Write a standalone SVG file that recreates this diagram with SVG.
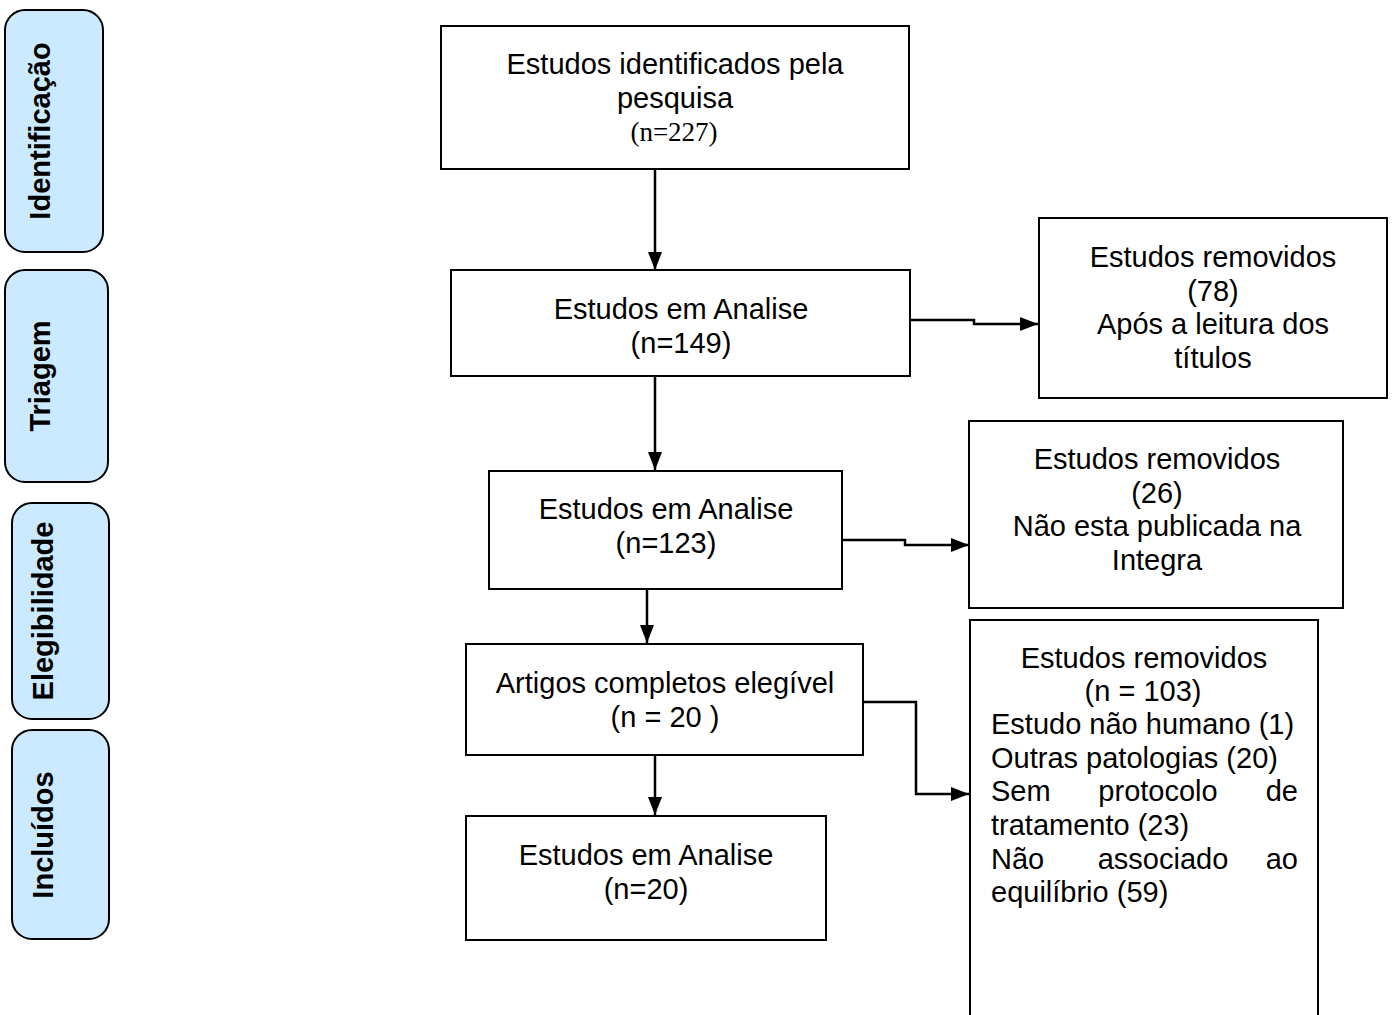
<svg xmlns="http://www.w3.org/2000/svg" width="1395" height="1015" viewBox="0 0 1395 1015">
<style>
.lbl{fill:#cceaff;stroke:#000;stroke-width:2}
.lt{font-family:"Liberation Sans",Arial,sans-serif;font-weight:bold;font-size:29px;fill:#000}
.box{fill:#fff;stroke:#000;stroke-width:2}
.t{font-family:"Liberation Sans",Arial,sans-serif;font-size:29px;fill:#000}
.tc{text-anchor:middle}
.tr{text-anchor:end}
.ts{font-family:"Liberation Serif","Times New Roman",serif;font-size:27px;fill:#000;text-anchor:middle}
.c{fill:none;stroke:#000;stroke-width:2.5}
</style>
<defs>
<marker id="ah" markerWidth="18" markerHeight="14" refX="18" refY="7" orient="auto" markerUnits="userSpaceOnUse">
<path d="M0,0 L18,7 L0,14 Z" fill="#000"/>
</marker>
</defs>
<g id="lbl-identificacao">
<rect class="lbl" x="5" y="10" width="98" height="242" rx="20"/>
<text class="lt tc" transform="translate(50,131) rotate(-90)">Identificação</text>
</g>
<g id="lbl-triagem">
<rect class="lbl" x="5" y="270" width="103" height="212" rx="20"/>
<text class="lt tc" transform="translate(50,376) rotate(-90)">Triagem</text>
</g>
<g id="lbl-elegibilidade">
<rect class="lbl" x="12" y="503" width="97" height="216" rx="20"/>
<text class="lt tc" transform="translate(53,611) rotate(-90)">Elegibilidade</text>
</g>
<g id="lbl-incluidos">
<rect class="lbl" x="12" y="730" width="97" height="209" rx="20"/>
<text class="lt tc" transform="translate(53,835) rotate(-90)">Incluídos</text>
</g>
<g id="n-identificados">
<rect class="box" x="441" y="26" width="468" height="143"/>
<text class="t tc" x="675" y="74">Estudos identificados pela</text>
<text class="t tc" x="675" y="108">pesquisa</text>
<text class="ts" x="674" y="141">(n=227)</text>
</g>
<g id="n-analise149">
<rect class="box" x="451" y="270" width="459" height="106"/>
<text class="t tc" x="681" y="319">Estudos em Analise</text>
<text class="t tc" x="681" y="353">(n=149)</text>
</g>
<g id="n-removidos78">
<rect class="box" x="1039" y="218" width="348" height="180"/>
<text class="t tc" x="1213" y="267">Estudos removidos</text>
<text class="t tc" x="1213" y="301">(78)</text>
<text class="t tc" x="1213" y="334">Após a leitura dos</text>
<text class="t tc" x="1213" y="368">títulos</text>
</g>
<g id="n-analise123">
<rect class="box" x="489" y="471" width="353" height="118"/>
<text class="t tc" x="666" y="519">Estudos em Analise</text>
<text class="t tc" x="666" y="553">(n=123)</text>
</g>
<g id="n-removidos26">
<rect class="box" x="969" y="421" width="374" height="187"/>
<text class="t tc" x="1157" y="469">Estudos removidos</text>
<text class="t tc" x="1157" y="503">(26)</text>
<text class="t tc" x="1157" y="536">Não esta publicada na</text>
<text class="t tc" x="1157" y="570">Integra</text>
</g>
<g id="n-elegivel">
<rect class="box" x="466" y="644" width="397" height="111"/>
<text class="t tc" x="665" y="693">Artigos completos elegível</text>
<text class="t tc" x="665" y="727">(n = 20 )</text>
</g>
<g id="n-analise20">
<rect class="box" x="466" y="816" width="360" height="124"/>
<text class="t tc" x="646" y="865">Estudos em Analise</text>
<text class="t tc" x="646" y="899">(n=20)</text>
</g>
<g id="n-removidos103">
<rect class="box" x="970" y="620" width="348" height="400"/>
<text class="t tc" x="1144" y="668">Estudos removidos</text>
<text class="t tc" x="1143" y="701">(n = 103)</text>
<text class="t" x="991" y="734">Estudo não humano (1)</text>
<text class="t" x="991" y="768">Outras patologias (20)</text>
<text class="t" x="991" y="801">Sem</text>
<text class="t tc" x="1158" y="801">protocolo</text>
<text class="t tr" x="1298" y="801">de</text>
<text class="t" x="991" y="835">tratamento (23)</text>
<text class="t" x="991" y="869">Não</text>
<text class="t tc" x="1163" y="869">associado</text>
<text class="t tr" x="1298" y="869">ao</text>
<text class="t" x="991" y="902">equilíbrio (59)</text>
</g>
<g id="connectors">
<path class="c" d="M655,169 V270" marker-end="url(#ah)"/>
<path class="c" d="M910,320 H974 V324 H1038" marker-end="url(#ah)"/>
<path class="c" d="M655,376 V470" marker-end="url(#ah)"/>
<path class="c" d="M842,540 H905 V545 H969" marker-end="url(#ah)"/>
<path class="c" d="M647,589 V643" marker-end="url(#ah)"/>
<path class="c" d="M863,702 H916 V794 H969" marker-end="url(#ah)"/>
<path class="c" d="M655,755 V815" marker-end="url(#ah)"/>
</g>
</svg>
